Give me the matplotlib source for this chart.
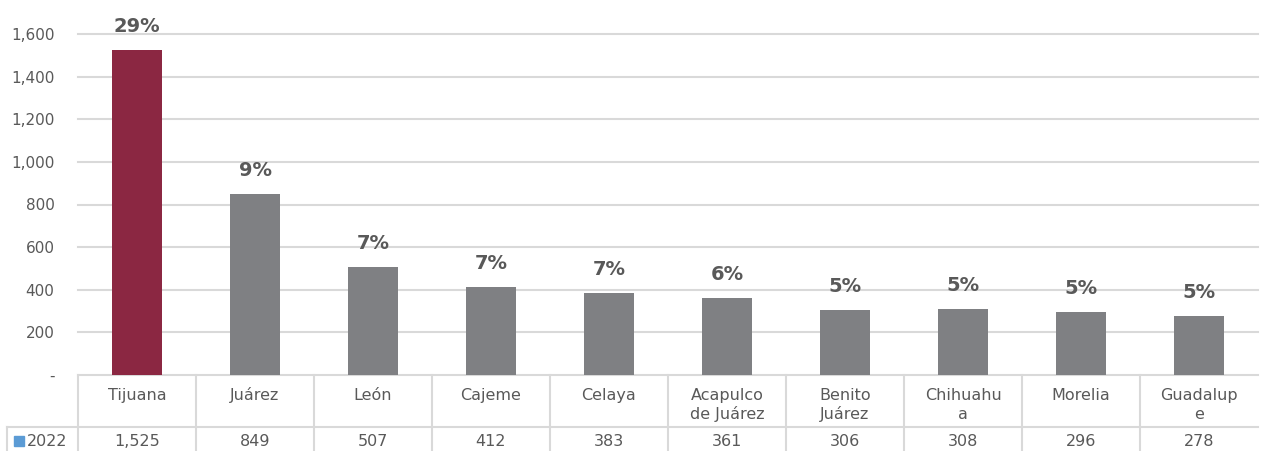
import matplotlib.pyplot as plt

ciudades = ['Tijuana', 'Juárez', 'León', 'Cajeme', 'Celaya', 'Acapulco\nde Juárez',
            'Benito\nJuárez', 'Chihuahu\na', 'Morelia', 'Guadalup\ne']
valores = [1525, 849, 507, 412, 383, 361, 306, 308, 296, 278]
etiquetas_valor = ['1,525', '849', '507', '412', '383', '361', '306', '308', '296', '278']
porcentajes = ['29%', '9%', '7%', '7%', '7%', '6%', '5%', '5%', '5%', '5%']
serie = '2022'
yticks = [0, 200, 400, 600, 800, 1000, 1200, 1400, 1600]
ytick_labels = ['-', '200', '400', '600', '800', '1,000', '1,200', '1,400', '1,600']

gris_texto = '#595959'
gris_linea = '#D9D9D9'
colores = ['#8B2742'] + ['#7F8083'] * (len(valores) - 1)

plt.rcParams['font.family'] = ['DejaVu Sans']

fig = plt.figure(figsize=(12.62, 4.51), dpi=100)
ax = fig.add_axes([78 / 1262, 76 / 451, 1180 / 1262, 341 / 451])

x = list(range(len(ciudades)))
ax.bar(x, valores, width=0.42, color=colores, zorder=3)

for xi, v, p in zip(x, valores, porcentajes):
    ax.annotate(p, (xi, v), xytext=(0, 10), textcoords='offset points',
                ha='center', va='bottom', fontsize=14, fontweight='bold',
                color=gris_texto, annotation_clip=False)

ax.set_xlim(-0.5, len(ciudades) - 0.5)
ax.set_ylim(0, 1600)
ax.set_yticks(yticks)
ax.set_yticklabels(ytick_labels, fontsize=11, color=gris_texto)
ax.set_xticks([])
ax.tick_params(axis='y', length=0, pad=17)
ax.grid(axis='y', color=gris_linea, linewidth=1.5, zorder=0, clip_on=False)
for s in ax.spines.values():
    s.set_visible(False)

# tabla de datos debajo del eje
tr = ax.get_xaxis_transform()
def fy(py):
    return (375 - py) / 341

y_medio = fy(427)
y_fondo = fy(451)
x_izq = -0.5 + (7 - 78) / 118

ax.plot([x_izq, len(ciudades) - 0.5], [y_medio, y_medio], transform=tr,
        color=gris_linea, linewidth=1.5, clip_on=False)
for i in range(len(ciudades)):
    ax.plot([i - 0.5, i - 0.5], [0, y_fondo], transform=tr,
            color=gris_linea, linewidth=1.5, clip_on=False)
ax.plot([x_izq, x_izq], [y_medio, y_fondo], transform=tr,
        color=gris_linea, linewidth=1.5, clip_on=False)

for xi, c, e in zip(x, ciudades, etiquetas_valor):
    for k, linea in enumerate(c.split('\n')):
        ax.text(xi, fy(400 + 19 * k), linea, transform=tr, ha='center',
                va='baseline', fontsize=11.5, color=gris_texto)
    ax.text(xi, fy(441), e, transform=tr, ha='center', va='center', fontsize=11.5,
            color=gris_texto)

ax.plot([-0.5 + (19 - 78) / 118], [fy(441)], transform=tr, marker='s',
        markersize=6.5, color='#5B9BD5', clip_on=False)
ax.text(-0.5 + (27 - 78) / 118, fy(441), serie, transform=tr, ha='left', va='center',
        fontsize=11.5, color=gris_texto)

fig.savefig('out.png', dpi=100)
